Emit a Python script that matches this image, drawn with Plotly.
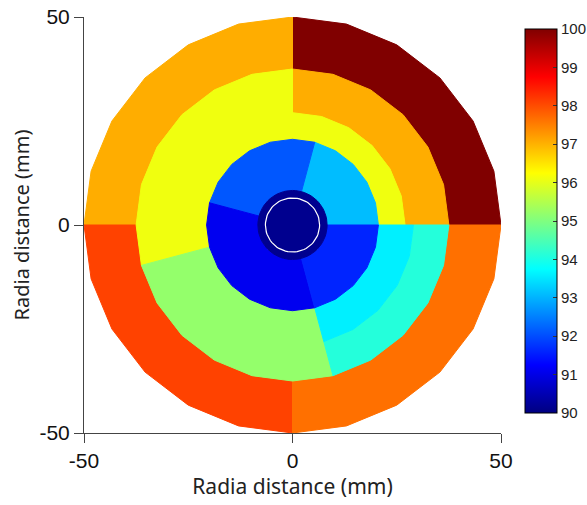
import numpy as np
import plotly.graph_objects as go

# ---- data: annular sectors (radius in mm, angle in degrees, value) ----
sector_r_in = [37.5, 37.5, 37.5, 37.5,
               27.0, 20.6, 20.6, 20.6, 29.0, 20.6,
               8.3, 8.3, 8.3, 8.3,
               0.0]
sector_r_out = [50.0, 50.0, 50.0, 50.0,
                37.5, 27.0, 37.5, 37.5, 37.5, 29.0,
                20.6, 20.6, 20.6, 20.6,
                8.3]
sector_theta_start = [0, 90, 180, 270,
                      0, 0, 90, 195, 285, 285,
                      0, 75, 165, 285,
                      0]
sector_theta_end = [90, 180, 270, 360,
                    90, 90, 195, 285, 360, 360,
                    75, 165, 285, 360,
                    360]
sector_value = [100.0, 97.05, 98.1, 97.65,
                97.05, 96.1, 96.1, 95.2, 94.1, 93.6,
                93.1, 92.1, 91.1, 91.6,
                90.15]
probe_radius = 6.5
axis_ticks = [-50, 0, 50]
axis_tick_labels = ["-50", "0", "50"]
cbar_ticks = [90, 91, 92, 93, 94, 95, 96, 97, 98, 99, 100]
vmin, vmax = 90, 100


def jet(t):
    t = min(max(t, 0.0), 1.0)
    r = min(max(min(4 * t - 1.5, -4 * t + 4.5), 0), 1)
    g = min(max(min(4 * t - 0.5, -4 * t + 3.5), 0), 1)
    b = min(max(min(4 * t + 0.5, -4 * t + 2.5), 0), 1)
    return "rgb(%d,%d,%d)" % (round(r * 255), round(g * 255), round(b * 255))


jet_scale = [[s, jet(s)] for s in [0, 0.125, 0.375, 0.625, 0.875, 1.0]]


def arc(r, t1, t2, step):
    n = max(int(round((t2 - t1) / step)), 1)
    th = np.radians(np.linspace(t1, t2, n + 1))
    return r * np.cos(th), r * np.sin(th)


fig = go.Figure()
for ri, ro, t1, t2, v in zip(sector_r_in, sector_r_out, sector_theta_start,
                             sector_theta_end, sector_value):
    step = 15 if ri > 0 else 5
    xo, yo = arc(ro, t1, t2, step)
    if ri > 0:
        xi, yi = arc(ri, t1, t2, step)
        xs = np.concatenate([xo, xi[::-1], xo[:1]])
        ys = np.concatenate([yo, yi[::-1], yo[:1]])
    else:
        xs, ys = xo, yo
    col = jet((v - vmin) / (vmax - vmin))
    fig.add_trace(go.Scatter(x=xs, y=ys, mode="lines", fill="toself",
                             fillcolor=col, line=dict(color=col, width=1),
                             hoverinfo="skip", showlegend=False))

# probe circle
xc, yc = arc(probe_radius, 0, 360, 5)
fig.add_trace(go.Scatter(x=xc, y=yc, mode="lines",
                         line=dict(color="white", width=1.2),
                         hoverinfo="skip", showlegend=False))

# colorbar carrier
fig.add_trace(go.Scatter(
    x=[None, None], y=[None, None], mode="markers", showlegend=False,
    marker=dict(color=[vmin, vmax], cmin=vmin, cmax=vmax, colorscale=jet_scale,
                showscale=True,
                colorbar=dict(
                    x=(525 - 84) / 417, xanchor="left",
                    y=(433 - 221) / 416, yanchor="middle",
                    thickness=32, thicknessmode="pixels",
                    len=384, lenmode="pixels",
                    outlinewidth=1, outlinecolor="black",
                    tickvals=cbar_ticks, ticks="inside", ticklen=4,
                    tickcolor="#333",
                    tickfont=dict(family="Liberation Sans Narrow, Liberation Sans, Arial",
                                  size=15, color="#222"),
                    xpad=0, ypad=0))))

axis_common = dict(range=[-50, 50], showgrid=False, zeroline=False,
                   showline=True, linecolor="#444", linewidth=1,
                   ticks="outside", ticklen=9, tickcolor="#444",
                   tickvals=axis_ticks, ticktext=axis_tick_labels,
                   automargin=False,
                   tickfont=dict(family="Liberation Sans, Arial", size=21,
                                 color="#111"))

fig.update_layout(
    width=587, height=505,
    margin=dict(l=84, r=86, t=17, b=72, autoexpand=False),
    paper_bgcolor="white", plot_bgcolor="white",
    xaxis=dict(**axis_common,
               title=dict(text="Radia distance (mm)", standoff=4,
                          font=dict(family="Noto Sans, Open Sans", size=21,
                                    color="#222"))),
    yaxis=dict(**axis_common,
               title=dict(text="Radia distance (mm)", standoff=4,
                          font=dict(family="Noto Sans, Open Sans", size=20,
                                    color="#222"))),
)

fig.write_html("out.html",
               config={"displayModeBar": False},
               post_script="document.body.style.margin='0';"
                           "document.body.style.overflow='hidden';")
